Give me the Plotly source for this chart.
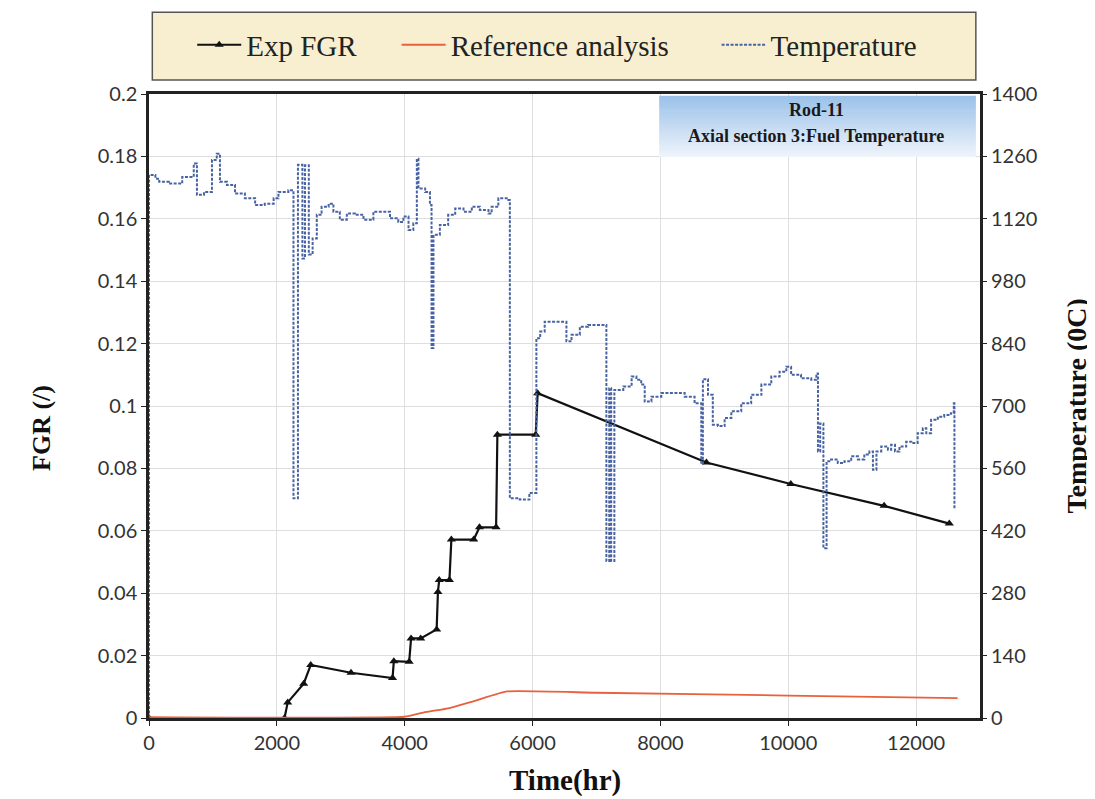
import plotly.graph_objects as go

# ---------------- data ----------------
fgr_time = [0, 2120, 2170, 2420, 2530, 3160, 3810, 3830, 4070, 4100, 4250, 4500, 4520,
            4540, 4700, 4730, 5080, 5170, 5430, 5450, 6050, 6080, 8720, 10040, 11500, 12520]
fgr_value = [0, 0, 0.005, 0.011, 0.017, 0.0145, 0.0128, 0.0182, 0.018, 0.0255, 0.0255, 0.0284,
             0.0404, 0.0442, 0.0442, 0.0572, 0.0572, 0.0611, 0.0611, 0.0908, 0.0908, 0.1041,
             0.0819, 0.075, 0.068, 0.0623]

ref_time = [0, 4000, 4300, 4700, 5100, 5600, 7000, 10000, 12650]
ref_value = [0.0003, 0.0004, 0.0018, 0.0032, 0.0055, 0.0085, 0.0081, 0.0072, 0.0064]

temp_time = [0, 0, 100, 160, 310, 520, 700, 750, 860, 985, 1060, 1110, 1220, 1345, 1500,
             1660, 1810, 1950, 2025, 2180, 2260, 2330, 2400, 2440, 2500, 2560, 2625, 2700,
             2810, 2885, 2985, 3095, 3220, 3355, 3510, 3770, 3900, 3980, 4060, 4135, 4190,
             4215, 4320, 4395, 4420, 4450, 4550, 4680, 4790, 4920, 5050, 5175, 5310, 5360,
             5465, 5595, 5645, 5800, 5950, 6060, 6120, 6190, 6530, 6610, 6740, 6870, 7155,
             7200, 7230, 7280, 7420, 7550, 7625, 7700, 7755, 7860, 8015, 8380, 8535, 8640,
             8665, 8745, 8820, 8900, 9005, 9110, 9265, 9420, 9580, 9735, 9865, 9970, 10045,
             10200, 10360, 10440, 10465, 10500, 10550, 10600, 10670, 10775, 10880, 10985,
             11090, 11190, 11270, 11325, 11380, 11455, 11560, 11610, 11670, 11740, 11845,
             11925, 12025, 12105, 12160, 12235, 12340, 12440, 12545, 12590, 12600]
temp_value = [0, 1218, 1210, 1203, 1199, 1214, 1244, 1174, 1180, 1252, 1266, 1203, 1196, 1177,
              1166, 1151, 1154, 1166, 1180, 1184, 493, 1241, 1031, 1240, 1040, 1076, 1129,
              1147, 1154, 1136, 1118, 1132, 1129, 1118, 1136, 1121, 1113, 1125, 1095, 1110,
              1255, 1188, 1180, 1151, 830, 1084, 1106, 1129, 1143, 1136, 1147, 1140, 1132,
              1147, 1166, 1162, 493, 490, 505, 852, 867, 889, 845, 860, 878, 882, 352, 740,
              352, 736, 744, 766, 759, 748, 710, 721, 729, 721, 706, 570, 760, 725, 658, 655,
              673, 688, 706, 725, 748, 766, 777, 788, 770, 762, 759, 773, 598, 661, 381, 576,
              580, 572, 576, 587, 580, 591, 598, 557, 598, 609, 602, 613, 598, 609, 620, 617,
              639, 650, 639, 669, 676, 680, 684, 706, 470]

x_ticks = [0, 2000, 4000, 6000, 8000, 10000, 12000]
x_ticktext = ["0", "2000", "4000", "6000", "8000", "10000", "12000"]
y_ticks = [0, 0.02, 0.04, 0.06, 0.08, 0.1, 0.12, 0.14, 0.16, 0.18, 0.2]
y2_ticks = [0, 140, 280, 420, 560, 700, 840, 980, 1120, 1260, 1400]

SERIF = "Liberation Serif"
SANS = "Lato"
LEG_FONT = dict(family=SERIF, size=29, color="#222222")

fig = go.Figure()
fig.add_trace(go.Scatter(
    x=fgr_time, y=fgr_value, name="Exp FGR", mode="lines+markers", legend="legend",
    line=dict(color="#111111", width=2.2),
    marker=dict(symbol="triangle-up", size=8, color="#111111"),
))
fig.add_trace(go.Scatter(
    x=ref_time, y=ref_value, name="Reference analysis", mode="lines", legend="legend2",
    line=dict(color="#e8603c", width=1.8, shape="spline", smoothing=0.4),
))
fig.add_trace(go.Scatter(
    x=temp_time, y=temp_value, name="Temperature", mode="lines", yaxis="y2", legend="legend3",
    line=dict(color="#4863a3", width=2, dash="3px,1.5px", shape="hv"),
))

shapes = []
# legend box
shapes.append(dict(type="rect", xref="paper", yref="paper", x0=0.004, x1=0.995,
                   y0=1.0224, y1=1.131, fillcolor="#f7efcf",
                   line=dict(color="#555555", width=1.5), layer="below"))
# gradient annotation box (bands)
n = 32
x0p, x1p = 0.614, 0.995
ytop, ybot = 0.997, 0.899
c0 = (155, 193, 233)
c1 = (238, 244, 251)
for i in range(n):
    f = i / (n - 1)
    col = "rgb(%d,%d,%d)" % tuple(round(c0[k] + (c1[k] - c0[k]) * f) for k in range(3))
    ya = ytop - (ytop - ybot) * i / n
    yb = ytop - (ytop - ybot) * (i + 1) / n - 0.001
    shapes.append(dict(type="rect", xref="paper", yref="paper", x0=x0p, x1=x1p,
                       y0=max(yb, ybot), y1=ya, fillcolor=col, line=dict(width=0), layer="above"))

leg_common = dict(orientation="h", yanchor="middle", y=1.077, xanchor="left",
                  bgcolor="rgba(0,0,0,0)", font=LEG_FONT, itemwidth=44)

fig.update_layout(
    width=1095, height=799,
    margin=dict(l=141, r=123, t=85, b=89),
    paper_bgcolor="white", plot_bgcolor="white",
    shapes=shapes,
    showlegend=True,
    legend=dict(x=0.052, **leg_common),
    legend2=dict(x=0.298, **leg_common),
    legend3=dict(x=0.683, **leg_common),
    xaxis=dict(range=[0, 13000], tickvals=x_ticks, ticktext=x_ticktext, showgrid=True,
               gridcolor="#dedede", gridwidth=1, showline=True, linecolor="#222222",
               linewidth=2.5, mirror=True, ticks="outside", ticklen=5, tickcolor="#222222",
               zeroline=False, tickfont=dict(family=SANS, size=20, color="#333333")),
    yaxis=dict(range=[0, 0.2], tickvals=y_ticks, showgrid=True, gridcolor="#dedede",
               gridwidth=1, showline=True, linecolor="#222222", linewidth=2.5, mirror=True,
               ticks="outside", ticklen=5, tickcolor="#222222", zeroline=False,
               tickfont=dict(family=SANS, size=20, color="#333333")),
    yaxis2=dict(range=[0, 1400], tickvals=y2_ticks, overlaying="y", side="right",
                showgrid=False, showline=True, linecolor="#222222", linewidth=2,
                ticks="outside", ticklen=5, tickcolor="#222222", zeroline=False,
                tickfont=dict(family=SANS, size=20, color="#333333")),
    annotations=[
        dict(xref="paper", yref="paper", x=0.803, y=0.974, xanchor="center", yanchor="middle",
             text="<b>Rod-11</b>", showarrow=False,
             font=dict(family=SERIF, size=18, color="#1a1a1a")),
        dict(xref="paper", yref="paper", x=0.803, y=0.932, xanchor="center", yanchor="middle",
             text="<b>Axial section 3:Fuel Temperature</b>", showarrow=False,
             font=dict(family=SERIF, size=18, color="#1a1a1a")),
        dict(xref="paper", yref="paper", x=-0.1286, y=0.465, xanchor="center", yanchor="middle",
             textangle=-90, text="<b>FGR (/)</b>", showarrow=False,
             font=dict(family=SERIF, size=26, color="#111111")),
        dict(xref="paper", yref="paper", x=1.115, y=0.5, xanchor="center", yanchor="middle",
             textangle=-90, text="<b>Temperature (0C)</b>", showarrow=False,
             font=dict(family=SERIF, size=28, color="#111111")),
        dict(xref="paper", yref="paper", x=0.5, y=-0.1, xanchor="center", yanchor="middle",
             text="<b>Time(hr)</b>", showarrow=False,
             font=dict(family=SERIF, size=29, color="#111111")),
    ],
)

fig.write_html("out.html")
